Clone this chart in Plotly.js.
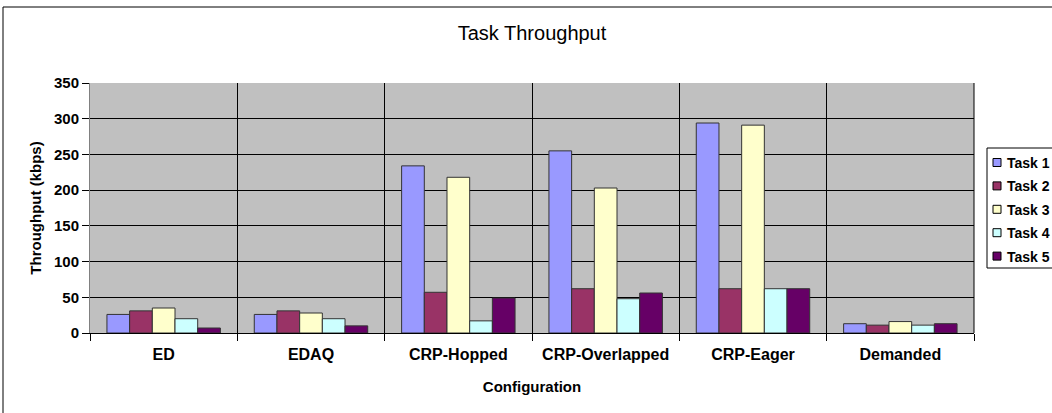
<!DOCTYPE html>
<html>
<head>
<meta charset="utf-8">
<script src="https://cdn.plot.ly/plotly-3.0.1.min.js"></script>
<style>
  html, body { margin: 0; padding: 0; background: #fff; overflow: hidden; }
  #chart { width: 1052px; height: 413px; }
</style>
</head>
<body>
<div id="chart"></div>
<script>
const categories = ["ED", "EDAQ", "CRP-Hopped", "CRP-Overlapped", "CRP-Eager", "Demanded"];
const seriesNames = ["Task 1", "Task 2", "Task 3", "Task 4", "Task 5"];
const task1 = [26, 26, 234, 255, 294, 13];
const task2 = [31, 31, 57, 62, 62, 11];
const task3 = [35, 28, 218, 203, 291, 16];
const task4 = [20, 20, 17, 48, 62, 11];
const task5 = [7, 10, 49, 56, 62, 13];
const seriesColors = ["#9999FF", "#993366", "#FFFFCC", "#CCFFFF", "#660066"];
const yTicks = [0, 50, 100, 150, 200, 250, 300, 350];

const FONT = "Liberation Sans, Arial, sans-serif";
const allSeries = [task1, task2, task3, task4, task5];
const traces = allSeries.map((vals, i) => ({
  type: "bar",
  name: seriesNames[i],
  x: categories,
  y: vals,
  marker: { color: seriesColors[i], line: { color: "#333333", width: 1 } },
  hoverinfo: "skip",
  showlegend: false
}));

const W = 1052, H = 413, L = 90, R = 78, T = 83, B = 80;
const pw = W - L - R, ph = H - T - B;
const px = v => (v - L) / pw;
const py = v => (H - B - v) / ph;

// manual legend (box, swatches, labels) placed outside the plot area
const legendLeft = 987, legendTop = 148, legendBottom = 268, rowStart = 162.5, rowStep = 23.4;
const shapes = [
  {
    type: "rect", xref: "paper", yref: "paper",
    x0: px(3), x1: px(1070), y0: py(430), y1: py(7),
    line: { color: "#000000", width: 1 }, fillcolor: "rgba(0,0,0,0)", layer: "below"
  },
  {
    type: "line", xref: "paper", yref: "paper",
    x0: 1, x1: 1, y0: 0, y1: 1,
    line: { color: "#000000", width: 1 }
  },
  {
    type: "rect", xref: "paper", yref: "paper",
    x0: px(legendLeft), x1: px(1080), y0: py(legendBottom), y1: py(legendTop),
    line: { color: "#000000", width: 1 }, fillcolor: "#ffffff", layer: "above"
  }
];
const annotations = [];
seriesNames.forEach((name, i) => {
  const cy = rowStart + i * rowStep;
  shapes.push({
    type: "rect", xref: "paper", yref: "paper",
    x0: px(993), x1: px(1001), y0: py(cy + 4), y1: py(cy - 4),
    line: { color: "#000000", width: 1 }, fillcolor: seriesColors[i], layer: "above"
  });
  annotations.push({
    xref: "paper", yref: "paper", x: px(1005), y: py(cy + 0.5),
    xanchor: "left", yanchor: "middle", showarrow: false,
    text: name,
    font: { size: 14, color: "#000", family: FONT, weight: "bold" }
  });
});

const layout = {
  width: W, height: H,
  margin: { l: L, r: R, t: T, b: B, pad: 0 },
  paper_bgcolor: "#ffffff",
  plot_bgcolor: "#C0C0C0",
  font: { family: FONT, color: "#000" },
  title: {
    text: "Task Throughput",
    font: { size: 20, color: "#000", family: FONT },
    x: 0.5, xref: "paper", xanchor: "center",
    y: 1 - 33 / H, yref: "container", yanchor: "middle"
  },
  barmode: "group",
  bargap: 0.23,
  bargroupgap: 0,
  showlegend: false,
  xaxis: {
    type: "category",
    tickson: "boundaries",
    ticks: "outside", ticklen: 7, tickcolor: "#000", tickwidth: 1,
    showgrid: true, gridcolor: "#000000", gridwidth: 1,
    showline: true, linecolor: "#000", linewidth: 1,
    tickfont: { size: 16, color: "#000", weight: "bold" },
    ticklabelstandoff: 7,
    title: { text: "Configuration", font: { size: 15, color: "#000", weight: "bold" }, standoff: 19 },
    fixedrange: true
  },
  yaxis: {
    range: [0, 350],
    tickvals: yTicks,
    ticktext: yTicks.map(String),
    ticks: "outside", ticklen: 7, tickcolor: "#000", tickwidth: 1,
    showgrid: true, gridcolor: "#000000", gridwidth: 1,
    zeroline: false,
    showline: true, linecolor: "#808080", linewidth: 1,
    tickfont: { size: 15, color: "#000", weight: "bold" },
    title: { text: "Throughput (kbps)", font: { size: 15, color: "#000", weight: "bold" }, standoff: 8 },
    fixedrange: true
  },
  shapes: shapes,
  annotations: annotations
};

Plotly.newPlot("chart", traces, layout, { staticPlot: true, displayModeBar: false });
</script>
</body>
</html>
